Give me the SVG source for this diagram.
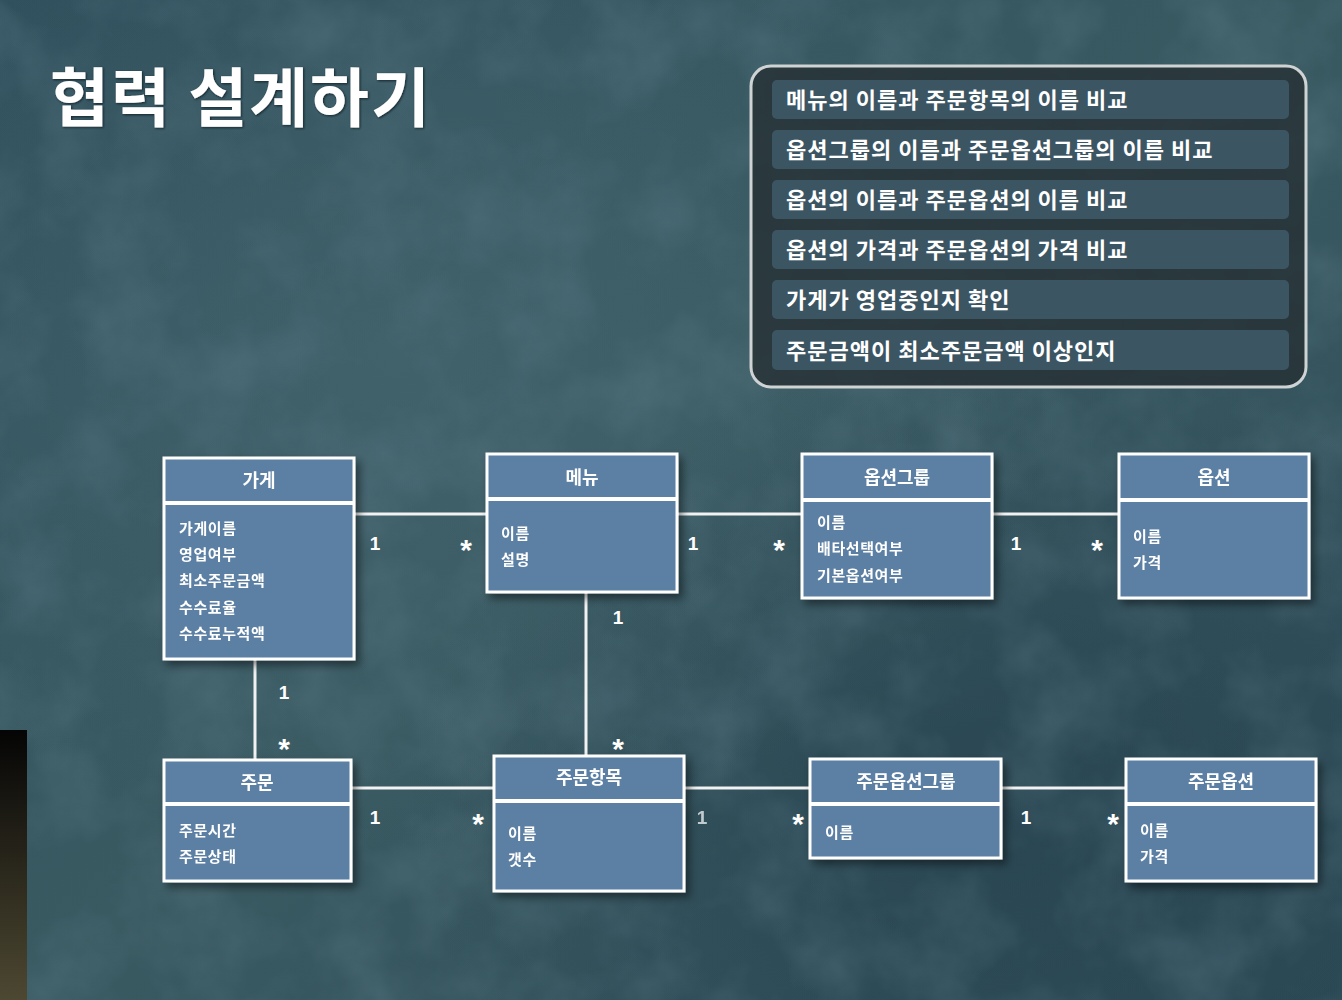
<svg xmlns="http://www.w3.org/2000/svg" width="1342" height="1000" viewBox="0 0 1342 1000">
  <defs>
    <linearGradient id="bg" x1="0" y1="0" x2="1" y2="1">
      <stop offset="0" stop-color="#2f4f5c"/>
      <stop offset="0.5" stop-color="#3a5a62"/>
      <stop offset="1" stop-color="#2d4b57"/>
    </linearGradient>
    <radialGradient id="glow1" cx="0.3" cy="0.35" r="0.5">
      <stop offset="0" stop-color="#4a6a74" stop-opacity="0.55"/>
      <stop offset="1" stop-color="#4a6a74" stop-opacity="0"/>
    </radialGradient>
    <radialGradient id="glow2" cx="0.75" cy="0.8" r="0.45">
      <stop offset="0" stop-color="#1f3a48" stop-opacity="0.5"/>
      <stop offset="1" stop-color="#1f3a48" stop-opacity="0"/>
    </radialGradient>
    <linearGradient id="strip" x1="0" y1="0" x2="0" y2="1">
      <stop offset="0" stop-color="#050505"/>
      <stop offset="1" stop-color="#4d4832"/>
    </linearGradient>
    <filter id="noise" x="0" y="0" width="100%" height="100%">
      <feTurbulence type="fractalNoise" baseFrequency="0.012" numOctaves="4" seed="7"/>
      <feColorMatrix type="matrix" values="0 0 0 0 0.12  0 0 0 0 0.22  0 0 0 0 0.27  0 0 0 -1.2 0.75"/>
    </filter>
    <filter id="shadow" x="-10%" y="-10%" width="130%" height="130%">
      <feDropShadow dx="4" dy="5" stdDeviation="4" flood-color="#000" flood-opacity="0.45"/>
    </filter>
    <filter id="tshadow" x="-5%" y="-20%" width="110%" height="140%">
      <feDropShadow dx="1" dy="1" stdDeviation="1" flood-color="#0a1a22" flood-opacity="0.9"/>
    </filter>
  </defs>
  <style>
    .node rect.box { fill: #5b7fa4; stroke: #ffffff; stroke-width: 3; }
    .node line.sep { stroke: #ffffff; stroke-width: 4; }
    .hdr { font-family: "Noto Sans CJK KR", "Noto Sans", sans-serif; font-weight: 700; font-size: 18px; fill: #ffffff; text-anchor: middle; }
    .attr { font-family: "Noto Sans CJK KR", "Noto Sans", sans-serif; font-weight: 700; font-size: 15px; letter-spacing: 0.6px; fill: #ffffff; }
    .conn line { stroke: #f2f2f2; stroke-width: 3; }
    .mult { font-family: "Liberation Sans", "Noto Sans CJK KR", sans-serif; font-weight: 700; font-size: 19px; fill: #ffffff; text-anchor: middle; }
    .star { font-family: "Liberation Sans", sans-serif; font-weight: 700; font-size: 30px; fill: #ffffff; text-anchor: middle; }
    .title { font-family: "Noto Sans CJK KR", sans-serif; font-weight: 700; font-size: 64px; letter-spacing: 2px; fill: #ffffff; }
    .item rect { fill: #3f5a6a; fill-opacity: 0.85; }
    .item text { font-family: "Noto Sans CJK KR", sans-serif; font-weight: 700; font-size: 22px; letter-spacing: 1px; fill: #ffffff; }
  </style>

  <!-- background -->
  <rect x="0" y="0" width="1342" height="1000" fill="url(#bg)"/>
  <rect x="0" y="0" width="1342" height="1000" fill="url(#glow1)"/>
  <rect x="0" y="0" width="1342" height="1000" fill="url(#glow2)"/>
  <rect x="0" y="0" width="1342" height="1000" filter="url(#noise)" opacity="0.55"/>
  <rect x="0" y="730" width="27" height="270" fill="url(#strip)"/>

  <!-- title -->
  <text class="title" x="50" y="121" filter="url(#tshadow)">협력 설계하기</text>

  <!-- checklist panel -->
  <g id="checklist">
    <rect x="751" y="66" width="555" height="321" rx="20" ry="20" fill="#262f33" fill-opacity="0.8" stroke="#cfd3d4" stroke-width="3"/>
    <g class="item"><rect x="772" y="80" width="517" height="39" rx="5"/><text x="786" y="108">메뉴의 이름과 주문항목의 이름 비교</text></g>
    <g class="item"><rect x="772" y="130" width="517" height="39" rx="5"/><text x="786" y="158">옵션그룹의 이름과 주문옵션그룹의 이름 비교</text></g>
    <g class="item"><rect x="772" y="180" width="517" height="39" rx="5"/><text x="786" y="208">옵션의 이름과 주문옵션의 이름 비교</text></g>
    <g class="item"><rect x="772" y="230" width="517" height="39" rx="5"/><text x="786" y="258">옵션의 가격과 주문옵션의 가격 비교</text></g>
    <g class="item"><rect x="772" y="280" width="517" height="39" rx="5"/><text x="786" y="308">가게가 영업중인지 확인</text></g>
    <g class="item"><rect x="772" y="330" width="517" height="40" rx="5"/><text x="786" y="359">주문금액이 최소주문금액 이상인지</text></g>
  </g>

  <!-- connectors -->
  <g id="connectors" class="conn">
    <line x1="354" y1="514" x2="487" y2="514"/>
    <line x1="677" y1="514" x2="802" y2="514"/>
    <line x1="992" y1="514" x2="1119" y2="514"/>
    <line x1="586" y1="592" x2="586" y2="756"/>
    <line x1="255" y1="659" x2="255" y2="760"/>
    <line x1="351" y1="788" x2="494" y2="788"/>
    <line x1="684" y1="788" x2="810" y2="788"/>
    <line x1="1001" y1="788" x2="1126" y2="788"/>
    <text class="mult" x="375" y="550">1</text>
    <text class="star" x="466" y="560">*</text>
    <text class="mult" x="693" y="550">1</text>
    <text class="star" x="779" y="560">*</text>
    <text class="mult" x="1016" y="550">1</text>
    <text class="star" x="1097" y="560">*</text>
    <text class="mult" x="618" y="624">1</text>
    <text class="star" x="618" y="759">*</text>
    <text class="mult" x="284" y="699">1</text>
    <text class="star" x="284" y="759">*</text>
    <text class="mult" x="375" y="824">1</text>
    <text class="star" x="478" y="834">*</text>
    <text class="mult" x="702" y="824" opacity="0.7">1</text>
    <text class="star" x="798" y="834">*</text>
    <text class="mult" x="1026" y="824">1</text>
    <text class="star" x="1113" y="834">*</text>
  </g>

  <!-- nodes -->
  <g id="node-store" class="node" filter="url(#shadow)">
    <rect class="box" x="164" y="458" width="190" height="201"/>
    <line class="sep" x1="164" y1="503" x2="354" y2="503"/>
    <text class="hdr" x="259" y="487">가게</text>
    <text class="attr" x="179" y="534">가게이름</text>
    <text class="attr" x="179" y="560">영업여부</text>
    <text class="attr" x="179" y="586">최소주문금액</text>
    <text class="attr" x="179" y="613">수수료율</text>
    <text class="attr" x="179" y="639">수수료누적액</text>
  </g>

  <g id="node-menu" class="node" filter="url(#shadow)">
    <rect class="box" x="487" y="454" width="190" height="138"/>
    <line class="sep" x1="487" y1="499" x2="677" y2="499"/>
    <text class="hdr" x="582" y="484">메뉴</text>
    <text class="attr" x="501" y="539">이름</text>
    <text class="attr" x="501" y="565">설명</text>
  </g>

  <g id="node-optiongroup" class="node" filter="url(#shadow)">
    <rect class="box" x="802" y="454" width="190" height="144"/>
    <line class="sep" x1="802" y1="500" x2="992" y2="500"/>
    <text class="hdr" x="897" y="484">옵션그룹</text>
    <text class="attr" x="817" y="528">이름</text>
    <text class="attr" x="817" y="554">배타선택여부</text>
    <text class="attr" x="817" y="581">기본옵션여부</text>
  </g>

  <g id="node-option" class="node" filter="url(#shadow)">
    <rect class="box" x="1119" y="454" width="190" height="144"/>
    <line class="sep" x1="1119" y1="500" x2="1309" y2="500"/>
    <text class="hdr" x="1214" y="484">옵션</text>
    <text class="attr" x="1133" y="542">이름</text>
    <text class="attr" x="1133" y="568">가격</text>
  </g>

  <g id="node-order" class="node" filter="url(#shadow)">
    <rect class="box" x="164" y="760" width="187" height="121"/>
    <line class="sep" x1="164" y1="804" x2="351" y2="804"/>
    <text class="hdr" x="257" y="789">주문</text>
    <text class="attr" x="179" y="836">주문시간</text>
    <text class="attr" x="179" y="862">주문상태</text>
  </g>

  <g id="node-orderitem" class="node" filter="url(#shadow)">
    <rect class="box" x="494" y="756" width="190" height="135"/>
    <line class="sep" x1="494" y1="801" x2="684" y2="801"/>
    <text class="hdr" x="589" y="784">주문항목</text>
    <text class="attr" x="508" y="839">이름</text>
    <text class="attr" x="508" y="865">갯수</text>
  </g>

  <g id="node-orderoptiongroup" class="node" filter="url(#shadow)">
    <rect class="box" x="810" y="759" width="191" height="99"/>
    <line class="sep" x1="810" y1="804" x2="1001" y2="804"/>
    <text class="hdr" x="906" y="788">주문옵션그룹</text>
    <text class="attr" x="825" y="838">이름</text>
  </g>

  <g id="node-orderoption" class="node" filter="url(#shadow)">
    <rect class="box" x="1126" y="759" width="190" height="122"/>
    <line class="sep" x1="1126" y1="804" x2="1316" y2="804"/>
    <text class="hdr" x="1221" y="788">주문옵션</text>
    <text class="attr" x="1140" y="836">이름</text>
    <text class="attr" x="1140" y="862">가격</text>
  </g>
</svg>
